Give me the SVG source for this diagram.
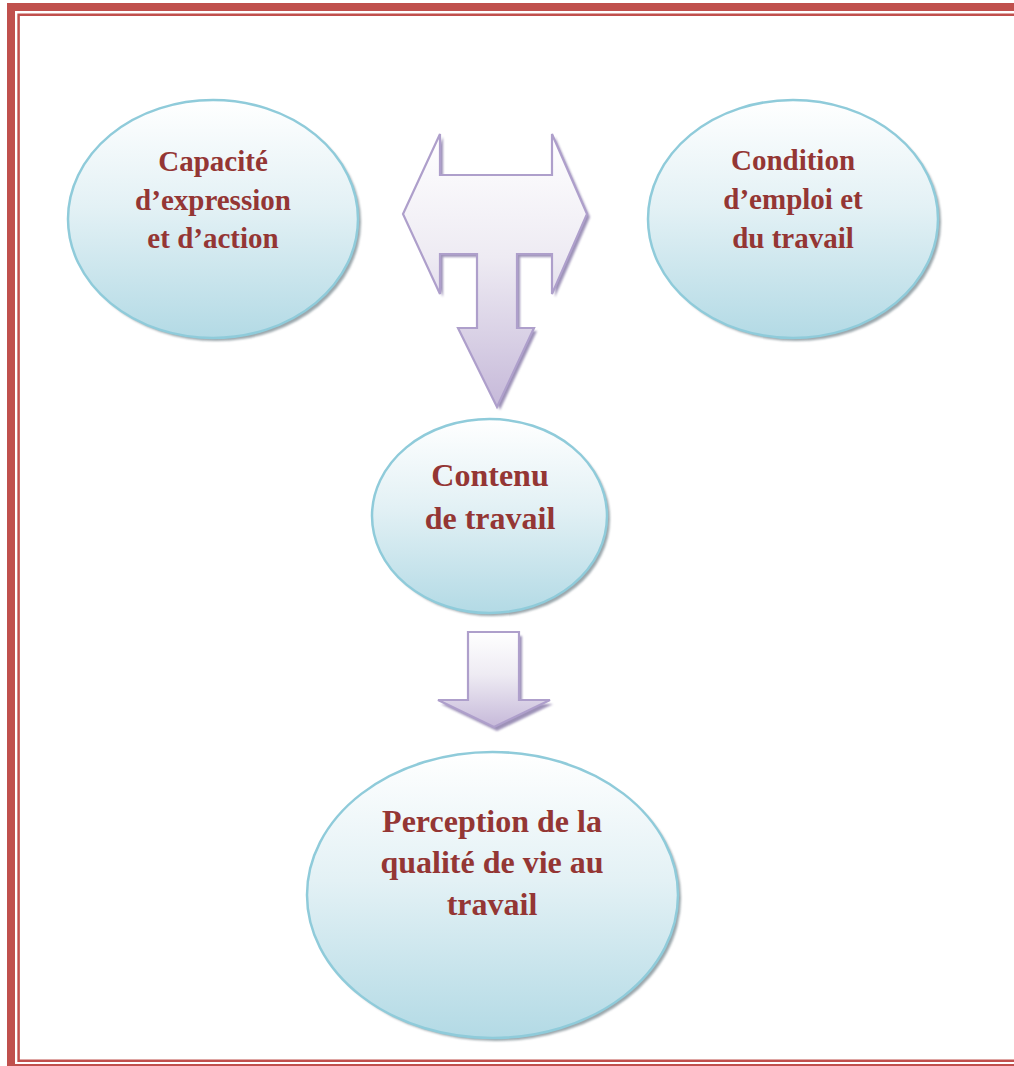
<svg xmlns="http://www.w3.org/2000/svg" width="1014" height="1066" viewBox="0 0 1014 1066">
  <style>
    .frame { fill: #C0504D; }
    .frame-line { fill: none; stroke: #C0504D; stroke-width: 2.5; }
    .bubble { fill: url(#bubbleFill); stroke: #8FCBDA; stroke-width: 2.5; }
    .bubble-shadow { fill: #7A8A91; opacity: 0.75; filter: url(#soft); }
    .arrow { fill: url(#arrowFill); stroke: #AE9FCB; stroke-width: 2.2; stroke-linejoin: miter; }
    .arrow-shadow { fill: #9386B0; opacity: 0.9; filter: url(#soft); }
    .label { font-family: "Liberation Serif", "Times New Roman", serif; font-weight: bold; fill: #943634; text-anchor: middle; }
    .small { font-size: 29px; }
    .large { font-size: 32px; }
  </style>
  <defs>
    <linearGradient id="bubbleFill" x1="0" y1="0" x2="0" y2="1">
      <stop offset="0" stop-color="#FFFFFF"/>
      <stop offset="0.45" stop-color="#E3F1F5"/>
      <stop offset="1" stop-color="#B3DAE5"/>
    </linearGradient>
    <linearGradient id="arrowFill" x1="0" y1="0" x2="0" y2="1">
      <stop offset="0" stop-color="#FFFFFF"/>
      <stop offset="0.45" stop-color="#EEEBF3"/>
      <stop offset="1" stop-color="#C6B9D9"/>
    </linearGradient>
    <filter id="soft" x="-10%" y="-10%" width="120%" height="120%">
      <feGaussianBlur stdDeviation="0.9"/>
    </filter>
  </defs>

  <!-- page frame: thick-thin on top/left, thin on bottom -->
  <g id="frame">
    <rect class="frame" x="7" y="3" width="1010" height="8"/>
    <rect class="frame" x="7" y="3" width="8" height="1066"/>
    <path class="frame-line" d="M1016 14.8 H18.6 V1060.8 H1016"/>
    <rect class="frame" x="15" y="1064" width="1002" height="4"/>
  </g>

  <!-- connectors -->
  <g id="connectors">
    <g id="t-arrow">
      <path class="arrow-shadow" transform="translate(3,3)" d="M403 214 L440 134 L440 175 L552 175 L552 134 L587 214 L552 294 L552 254 L517 254 L517 328 L534 328 L497 407 L458 328 L477 328 L477 254 L440 254 L440 294 Z"/>
      <path class="arrow" d="M403 214 L440 134 L440 175 L552 175 L552 134 L587 214 L552 294 L552 254 L517 254 L517 328 L534 328 L497 407 L458 328 L477 328 L477 254 L440 254 L440 294 Z"/>
    </g>
    <g id="down-arrow">
      <path class="arrow-shadow" transform="translate(3,4)" d="M468 632 L519 632 L519 700 L550 700 L494 727 L438 700 L468 700 Z"/>
      <path class="arrow" d="M468 632 L519 632 L519 700 L550 700 L494 727 L438 700 L468 700 Z"/>
    </g>
  </g>

  <g id="node-expression">
    <ellipse class="bubble-shadow" cx="216" cy="222" rx="145" ry="119"/>
    <ellipse class="bubble" cx="213" cy="219" rx="145" ry="119"/>
    <text class="label small" x="213" y="171">Capacité</text>
    <text class="label small" x="213" y="209.5">d’expression</text>
    <text class="label small" x="213" y="248">et d’action</text>
  </g>

  <g id="node-condition">
    <ellipse class="bubble-shadow" cx="796" cy="222" rx="145" ry="119"/>
    <ellipse class="bubble" cx="793" cy="219" rx="145" ry="119"/>
    <text class="label small" x="793" y="170">Condition</text>
    <text class="label small" x="793" y="209">d’emploi et</text>
    <text class="label small" x="793" y="248">du travail</text>
  </g>

  <g id="node-contenu">
    <ellipse class="bubble-shadow" cx="492.5" cy="519" rx="117.5" ry="97"/>
    <ellipse class="bubble" cx="489.5" cy="516" rx="117.5" ry="97"/>
    <text class="label large" x="490" y="486">Contenu</text>
    <text class="label large" x="490" y="528.5">de travail</text>
  </g>

  <g id="node-perception">
    <ellipse class="bubble-shadow" cx="495.5" cy="898" rx="185.5" ry="143"/>
    <ellipse class="bubble" cx="492.5" cy="895" rx="185.5" ry="143"/>
    <text class="label large" x="492" y="831.5">Perception de la</text>
    <text class="label large" x="492" y="872.5">qualité de vie au</text>
    <text class="label large" x="492" y="914.5">travail</text>
  </g>
</svg>
